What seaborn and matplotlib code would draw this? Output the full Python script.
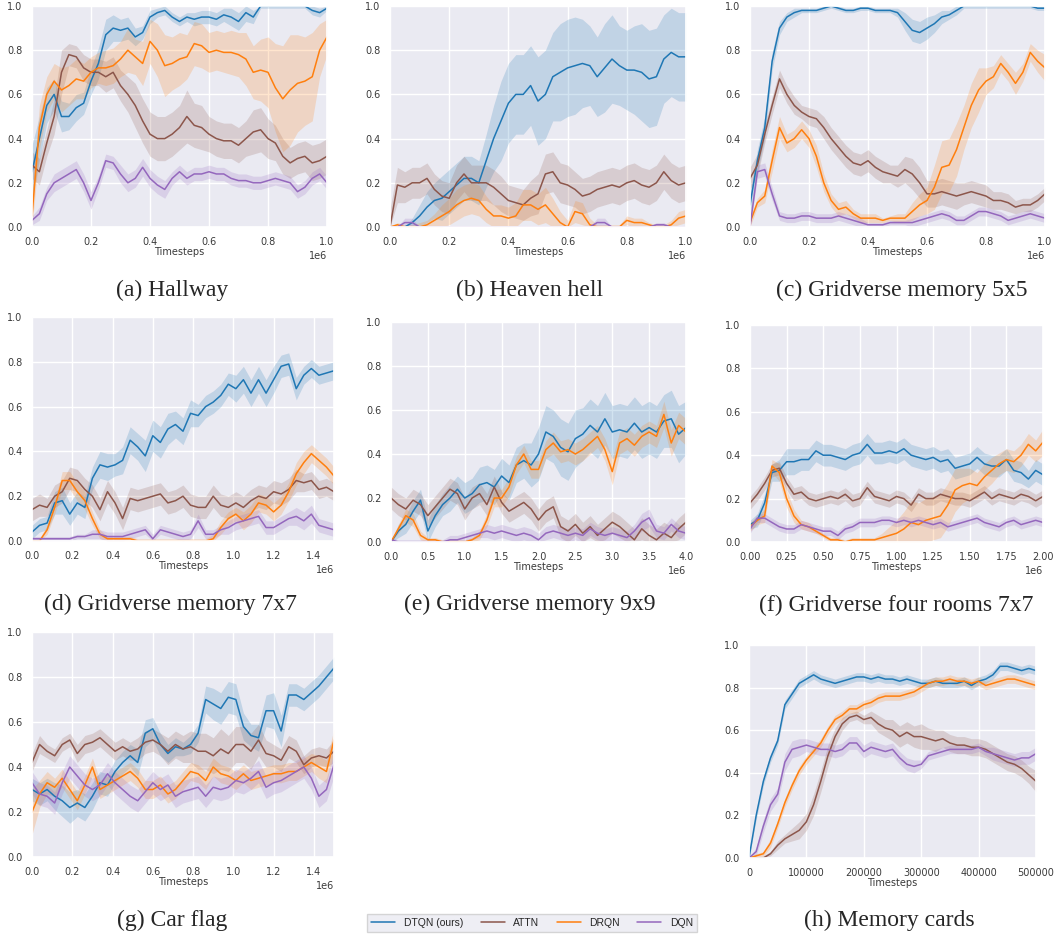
import numpy as np
import matplotlib
matplotlib.use("Agg")
import matplotlib.pyplot as plt
import seaborn as sns

# ---------------- DATA (success rate, 41 evals per run) ----------------
METHODS = ["DTQN (ours)", "ATTN", "DRQN", "DQN"]
COLORS = ["#1f77b4", "#8c564b", "#ff7f0e", "#9467bd"]

# (a) Hallway
hallway_dtqn = [0.25, 0.4, 0.55, 0.6, 0.5, 0.5, 0.54, 0.56, 0.66, 0.74, 0.87, 0.9, 0.89, 0.9, 0.86, 0.88, 0.95, 0.97, 0.98, 0.95, 0.93,
                0.95, 0.94, 0.95, 0.95, 0.94, 0.96, 0.95, 0.93, 0.97, 0.95, 1.0, 1.0, 1.0, 1.0, 1.0, 1.0, 1.0, 0.98, 0.97, 0.99]
hallway_dtqn_sd = [0.12, 0.1, 0.08, 0.07, 0.07, 0.06, 0.06, 0.05, 0.06, 0.07, 0.07, 0.06, 0.05, 0.05, 0.04, 0.03, 0.03, 0.02, 0.02, 0.02, 0.02,
                   0.02, 0.03, 0.03, 0.03, 0.03, 0.03, 0.04, 0.04, 0.04, 0.03, 0.01, 0.01, 0.01, 0.01, 0.01, 0.01, 0.01, 0.02, 0.02, 0.01]
hallway_attn = [0.28, 0.25, 0.38, 0.5, 0.7, 0.78, 0.77, 0.72, 0.7, 0.7, 0.68, 0.7, 0.64, 0.6, 0.55, 0.48, 0.42, 0.4, 0.4, 0.42, 0.45,
                0.5, 0.46, 0.45, 0.42, 0.4, 0.39, 0.39, 0.37, 0.4, 0.43, 0.44, 0.4, 0.38, 0.32, 0.29, 0.31, 0.32, 0.29, 0.3, 0.32]
hallway_attn_sd = [0.06, 0.06, 0.06, 0.08, 0.1, 0.05, 0.05, 0.06, 0.06, 0.06, 0.07, 0.07, 0.07, 0.08, 0.1, 0.1, 0.1, 0.1, 0.1, 0.1, 0.1,
                   0.12, 0.1, 0.1, 0.08, 0.08, 0.08, 0.08, 0.08, 0.08, 0.1, 0.1, 0.09, 0.08, 0.08, 0.07, 0.07, 0.07, 0.08, 0.08, 0.08]
hallway_drqn = [0.05, 0.45, 0.6, 0.66, 0.62, 0.64, 0.67, 0.66, 0.7, 0.72, 0.72, 0.73, 0.76, 0.8, 0.77, 0.74, 0.84, 0.8, 0.73, 0.74, 0.76,
                0.77, 0.83, 0.82, 0.79, 0.8, 0.79, 0.79, 0.78, 0.76, 0.7, 0.71, 0.7, 0.63, 0.58, 0.62, 0.65, 0.66, 0.68, 0.8, 0.86]
hallway_drqn_sd = [0.1, 0.1, 0.08, 0.08, 0.1, 0.09, 0.09, 0.08, 0.07, 0.07, 0.08, 0.08, 0.08, 0.1, 0.08, 0.1, 0.1, 0.12, 0.14, 0.12, 0.12,
                   0.1, 0.1, 0.1, 0.09, 0.09, 0.09, 0.1, 0.1, 0.12, 0.12, 0.14, 0.16, 0.2, 0.24, 0.25, 0.22, 0.2, 0.2, 0.12, 0.08]
hallway_dqn = [0.03, 0.06, 0.15, 0.2, 0.22, 0.24, 0.26, 0.2, 0.12, 0.2, 0.3, 0.29, 0.24, 0.2, 0.22, 0.27, 0.22, 0.19, 0.17, 0.22, 0.25,
               0.22, 0.24, 0.24, 0.25, 0.24, 0.24, 0.22, 0.21, 0.21, 0.2, 0.2, 0.21, 0.22, 0.21, 0.2, 0.16, 0.18, 0.22, 0.24, 0.2]
hallway_dqn_sd = [0.02, 0.03, 0.03, 0.04, 0.04, 0.04, 0.04, 0.04, 0.04, 0.03, 0.03, 0.03, 0.04, 0.04, 0.04, 0.04, 0.04, 0.04, 0.04, 0.03, 0.03,
                  0.03, 0.03, 0.03, 0.03, 0.03, 0.03, 0.03, 0.03, 0.03, 0.03, 0.03, 0.03, 0.03, 0.03, 0.03, 0.03, 0.03, 0.03, 0.03, 0.03]

# (b) Heaven hell
heaven_dtqn = [0.0, 0.0, 0.0, 0.02, 0.05, 0.09, 0.12, 0.13, 0.16, 0.19, 0.22, 0.22, 0.2, 0.3, 0.4, 0.48, 0.56, 0.6, 0.6, 0.64, 0.57,
               0.6, 0.68, 0.7, 0.72, 0.73, 0.74, 0.73, 0.68, 0.72, 0.76, 0.73, 0.71, 0.71, 0.7, 0.67, 0.68, 0.76, 0.79, 0.77, 0.77]
heaven_dtqn_sd = [0.0, 0.0, 0.0, 0.02, 0.05, 0.07, 0.08, 0.1, 0.1, 0.1, 0.1, 0.1, 0.1, 0.12, 0.15, 0.18, 0.18, 0.18, 0.18, 0.18, 0.2,
                  0.2, 0.2, 0.22, 0.22, 0.22, 0.2, 0.18, 0.18, 0.2, 0.2, 0.18, 0.18, 0.2, 0.22, 0.22, 0.22, 0.2, 0.2, 0.2, 0.2]
heaven_attn = [0.0, 0.19, 0.18, 0.2, 0.2, 0.22, 0.17, 0.14, 0.13, 0.2, 0.24, 0.2, 0.2, 0.2, 0.18, 0.15, 0.12, 0.11, 0.1, 0.13, 0.15,
               0.24, 0.25, 0.2, 0.19, 0.17, 0.14, 0.15, 0.17, 0.18, 0.19, 0.18, 0.2, 0.21, 0.19, 0.18, 0.2, 0.25, 0.21, 0.19, 0.2]
heaven_attn_sd = [0.08, 0.08, 0.07, 0.07, 0.07, 0.07, 0.07, 0.07, 0.07, 0.08, 0.08, 0.08, 0.08, 0.08, 0.08, 0.08, 0.07, 0.07, 0.07, 0.08, 0.09,
                  0.09, 0.09, 0.09, 0.09, 0.08, 0.08, 0.08, 0.08, 0.08, 0.08, 0.08, 0.08, 0.08, 0.08, 0.08, 0.08, 0.08, 0.08, 0.08, 0.08]
heaven_drqn = [0.0, 0.01, 0.0, 0.0, 0.0, 0.01, 0.03, 0.05, 0.07, 0.1, 0.12, 0.13, 0.12, 0.08, 0.05, 0.05, 0.04, 0.05, 0.1, 0.1, 0.08,
               0.1, 0.06, 0.02, 0.0, 0.07, 0.06, 0.01, 0.0, 0.0, 0.0, 0.0, 0.03, 0.02, 0.02, 0.01, 0.0, 0.0, 0.01, 0.04, 0.05]
heaven_drqn_sd = [0.0, 0.01, 0.01, 0.01, 0.02, 0.02, 0.03, 0.05, 0.06, 0.07, 0.07, 0.07, 0.07, 0.06, 0.05, 0.05, 0.05, 0.06, 0.07, 0.07, 0.07,
                  0.08, 0.07, 0.05, 0.03, 0.05, 0.05, 0.03, 0.01, 0.01, 0.01, 0.01, 0.02, 0.02, 0.02, 0.01, 0.01, 0.01, 0.02, 0.03, 0.03]
heaven_dqn = [0.0, 0.0, 0.02, 0.02, 0.0, 0.0, 0.0, 0.0, 0.0, 0.0, 0.0, 0.0, 0.0, 0.0, 0.0, 0.0, 0.0, 0.0, 0.0, 0.0, 0.0,
              0.0, 0.0, 0.0, 0.0, 0.0, 0.0, 0.0, 0.02, 0.02, 0.0, 0.0, 0.0, 0.0, 0.0, 0.0, 0.01, 0.01, 0.0, 0.0, 0.0]
heaven_dqn_sd = [0.0, 0.0, 0.02, 0.02, 0.0, 0.0, 0.0, 0.0, 0.0, 0.0, 0.0, 0.0, 0.0, 0.0, 0.0, 0.0, 0.0, 0.0, 0.0, 0.0, 0.0,
                 0.0, 0.0, 0.0, 0.0, 0.0, 0.0, 0.0, 0.02, 0.02, 0.0, 0.0, 0.0, 0.0, 0.0, 0.0, 0.01, 0.01, 0.0, 0.0, 0.0]

# (c) Gridverse memory 5x5
mem5_dtqn = [0.1, 0.3, 0.45, 0.75, 0.9, 0.95, 0.97, 0.98, 0.98, 0.98, 0.99, 1.0, 0.99, 0.98, 0.98, 0.99, 0.99, 0.98, 0.98, 0.98, 0.97,
             0.93, 0.89, 0.88, 0.9, 0.92, 0.95, 0.96, 0.98, 1.0, 1.0, 1.0, 1.0, 1.0, 1.0, 1.0, 1.0, 1.0, 1.0, 0.99, 0.99]
mem5_dtqn_sd = [0.05, 0.05, 0.05, 0.04, 0.03, 0.02, 0.02, 0.01, 0.01, 0.01, 0.01, 0.01, 0.01, 0.01, 0.01, 0.01, 0.01, 0.01, 0.01, 0.01, 0.02,
                0.04, 0.05, 0.05, 0.05, 0.04, 0.03, 0.02, 0.02, 0.01, 0.01, 0.01, 0.01, 0.01, 0.01, 0.01, 0.01, 0.01, 0.01, 0.01, 0.01]
mem5_attn = [0.22, 0.28, 0.42, 0.55, 0.67, 0.6, 0.55, 0.52, 0.5, 0.49, 0.45, 0.4, 0.36, 0.32, 0.29, 0.28, 0.3, 0.27, 0.25, 0.24, 0.23,
             0.26, 0.24, 0.2, 0.15, 0.15, 0.16, 0.15, 0.14, 0.15, 0.16, 0.15, 0.14, 0.12, 0.12, 0.11, 0.09, 0.1, 0.1, 0.12, 0.15]
mem5_attn_sd = [0.05, 0.05, 0.04, 0.04, 0.04, 0.04, 0.04, 0.03, 0.04, 0.04, 0.05, 0.05, 0.05, 0.05, 0.05, 0.05, 0.05, 0.05, 0.05, 0.04, 0.05,
                0.06, 0.07, 0.07, 0.06, 0.06, 0.06, 0.06, 0.06, 0.05, 0.05, 0.05, 0.05, 0.04, 0.04, 0.04, 0.03, 0.03, 0.03, 0.03, 0.03]
mem5_drqn = [0.02, 0.11, 0.14, 0.3, 0.45, 0.38, 0.4, 0.44, 0.4, 0.32, 0.2, 0.12, 0.08, 0.09, 0.06, 0.04, 0.04, 0.04, 0.03, 0.04, 0.04,
             0.04, 0.07, 0.1, 0.12, 0.18, 0.27, 0.28, 0.35, 0.45, 0.55, 0.62, 0.66, 0.68, 0.74, 0.7, 0.65, 0.7, 0.79, 0.75, 0.72]
mem5_drqn_sd = [0.02, 0.02, 0.03, 0.05, 0.05, 0.04, 0.04, 0.04, 0.04, 0.05, 0.04, 0.03, 0.03, 0.03, 0.02, 0.02, 0.02, 0.02, 0.01, 0.01, 0.02,
                0.02, 0.04, 0.05, 0.06, 0.1, 0.12, 0.12, 0.12, 0.1, 0.1, 0.1, 0.06, 0.05, 0.04, 0.04, 0.05, 0.04, 0.04, 0.05, 0.06]
mem5_dqn = [0.0, 0.25, 0.26, 0.15, 0.05, 0.04, 0.04, 0.05, 0.05, 0.04, 0.04, 0.04, 0.05, 0.04, 0.03, 0.02, 0.01, 0.01, 0.01, 0.02, 0.02,
            0.02, 0.02, 0.03, 0.04, 0.05, 0.06, 0.05, 0.03, 0.03, 0.05, 0.07, 0.07, 0.06, 0.05, 0.03, 0.04, 0.05, 0.06, 0.05, 0.04]
mem5_dqn_sd = [0.02, 0.03, 0.03, 0.03, 0.02, 0.02, 0.02, 0.02, 0.02, 0.02, 0.02, 0.02, 0.02, 0.02, 0.02, 0.02, 0.01, 0.01, 0.01, 0.01, 0.01,
               0.01, 0.02, 0.02, 0.02, 0.02, 0.02, 0.02, 0.02, 0.02, 0.02, 0.02, 0.02, 0.02, 0.02, 0.02, 0.02, 0.02, 0.02, 0.02, 0.02]

# (d) Gridverse memory 7x7
mem7_dtqn = [0.04, 0.07, 0.08, 0.17, 0.18, 0.12, 0.17, 0.15, 0.28, 0.34, 0.33, 0.34, 0.36, 0.45, 0.42, 0.38, 0.47, 0.44, 0.5, 0.52, 0.49,
             0.57, 0.56, 0.6, 0.62, 0.65, 0.7, 0.68, 0.72, 0.66, 0.72, 0.66, 0.72, 0.78, 0.79, 0.68, 0.74, 0.77, 0.74, 0.75, 0.76]
mem7_dtqn_sd = [0.03, 0.03, 0.03, 0.05, 0.06, 0.05, 0.05, 0.05, 0.05, 0.06, 0.06, 0.05, 0.06, 0.06, 0.06, 0.07, 0.07, 0.07, 0.07, 0.06, 0.06,
                0.06, 0.05, 0.05, 0.05, 0.05, 0.05, 0.06, 0.06, 0.06, 0.06, 0.06, 0.06, 0.05, 0.05, 0.05, 0.04, 0.04, 0.04, 0.04, 0.04]
mem7_attn = [0.14, 0.16, 0.15, 0.2, 0.22, 0.28, 0.27, 0.23, 0.2, 0.14, 0.22, 0.17, 0.1, 0.19, 0.18, 0.19, 0.2, 0.21, 0.17, 0.18, 0.2,
             0.16, 0.15, 0.15, 0.2, 0.16, 0.15, 0.17, 0.15, 0.18, 0.2, 0.19, 0.22, 0.21, 0.23, 0.27, 0.26, 0.27, 0.23, 0.24, 0.22]
mem7_attn_sd = [0.05, 0.05, 0.04, 0.05, 0.05, 0.05, 0.05, 0.05, 0.05, 0.05, 0.05, 0.05, 0.05, 0.05, 0.05, 0.05, 0.05, 0.05, 0.05, 0.05, 0.05,
                0.05, 0.05, 0.05, 0.05, 0.05, 0.05, 0.05, 0.05, 0.05, 0.05, 0.05, 0.05, 0.05, 0.05, 0.05, 0.04, 0.04, 0.04, 0.04, 0.04]
mem7_drqn = [0.0, 0.0, 0.05, 0.15, 0.27, 0.27, 0.22, 0.18, 0.1, 0.03, 0.01, 0.01, 0.01, 0.01, 0.0, 0.0, 0.0, 0.0, 0.0, 0.0, 0.0,
             0.0, 0.0, 0.0, 0.01, 0.06, 0.1, 0.12, 0.09, 0.12, 0.17, 0.16, 0.13, 0.16, 0.22, 0.3, 0.35, 0.39, 0.36, 0.33, 0.29]
mem7_drqn_sd = [0.0, 0.01, 0.02, 0.03, 0.04, 0.04, 0.04, 0.04, 0.03, 0.02, 0.01, 0.01, 0.01, 0.01, 0.01, 0.01, 0.01, 0.01, 0.01, 0.01, 0.01,
                0.01, 0.01, 0.01, 0.02, 0.03, 0.03, 0.03, 0.04, 0.04, 0.04, 0.04, 0.04, 0.04, 0.04, 0.05, 0.05, 0.04, 0.04, 0.04, 0.04]
mem7_dqn = [0.01, 0.01, 0.01, 0.01, 0.01, 0.01, 0.02, 0.02, 0.03, 0.03, 0.02, 0.02, 0.02, 0.03, 0.04, 0.05, 0.01, 0.05, 0.04, 0.03, 0.02,
            0.03, 0.09, 0.03, 0.03, 0.05, 0.06, 0.08, 0.09, 0.1, 0.11, 0.06, 0.06, 0.08, 0.1, 0.11, 0.09, 0.12, 0.07, 0.06, 0.05]
mem7_dqn_sd = [0.01, 0.01, 0.01, 0.01, 0.01, 0.01, 0.01, 0.01, 0.02, 0.02, 0.02, 0.02, 0.02, 0.02, 0.02, 0.02, 0.02, 0.02, 0.02, 0.02, 0.02,
               0.02, 0.03, 0.02, 0.02, 0.02, 0.03, 0.03, 0.03, 0.03, 0.03, 0.03, 0.03, 0.03, 0.03, 0.04, 0.04, 0.04, 0.03, 0.03, 0.03]

# (e) Gridverse memory 9x9
mem9_dtqn = [0.0, 0.05, 0.08, 0.14, 0.19, 0.05, 0.12, 0.17, 0.2, 0.24, 0.2, 0.22, 0.26, 0.27, 0.25, 0.3, 0.27, 0.35, 0.37, 0.35, 0.4,
             0.5, 0.48, 0.43, 0.41, 0.47, 0.49, 0.53, 0.5, 0.56, 0.5, 0.51, 0.5, 0.54, 0.5, 0.52, 0.5, 0.55, 0.56, 0.49, 0.52]
mem9_dtqn_sd = [0.0, 0.03, 0.04, 0.05, 0.05, 0.05, 0.05, 0.05, 0.06, 0.06, 0.07, 0.07, 0.08, 0.08, 0.08, 0.08, 0.08, 0.08, 0.08, 0.1, 0.12,
                0.12, 0.12, 0.13, 0.13, 0.13, 0.12, 0.12, 0.12, 0.12, 0.12, 0.12, 0.12, 0.12, 0.12, 0.12, 0.12, 0.12, 0.13, 0.13, 0.12]
mem9_attn = [0.2, 0.17, 0.15, 0.19, 0.17, 0.12, 0.16, 0.2, 0.24, 0.22, 0.15, 0.2, 0.22, 0.17, 0.25, 0.18, 0.14, 0.16, 0.18, 0.15, 0.1,
             0.14, 0.16, 0.07, 0.05, 0.08, 0.04, 0.07, 0.03, 0.06, 0.09, 0.07, 0.04, 0.01, 0.06, 0.03, 0.01, 0.04, 0.02, 0.06, 0.09]
mem9_attn_sd = [0.05, 0.05, 0.05, 0.05, 0.05, 0.05, 0.05, 0.05, 0.05, 0.05, 0.05, 0.05, 0.05, 0.05, 0.05, 0.05, 0.05, 0.05, 0.05, 0.05, 0.05,
                0.05, 0.05, 0.05, 0.05, 0.05, 0.05, 0.05, 0.05, 0.05, 0.05, 0.05, 0.05, 0.05, 0.05, 0.05, 0.05, 0.05, 0.05, 0.05, 0.05]
mem9_drqn = [0.0, 0.06, 0.12, 0.1, 0.03, 0.01, 0.01, 0.0, 0.0, 0.0, 0.0, 0.01, 0.03, 0.1, 0.2, 0.2, 0.25, 0.35, 0.4, 0.33, 0.33,
             0.42, 0.45, 0.41, 0.42, 0.4, 0.42, 0.45, 0.48, 0.42, 0.32, 0.45, 0.47, 0.44, 0.48, 0.5, 0.48, 0.58, 0.45, 0.53, 0.5]
mem9_drqn_sd = [0.01, 0.02, 0.03, 0.03, 0.02, 0.01, 0.01, 0.01, 0.01, 0.01, 0.01, 0.01, 0.02, 0.03, 0.04, 0.04, 0.04, 0.04, 0.04, 0.04, 0.04,
                0.04, 0.05, 0.05, 0.05, 0.05, 0.05, 0.05, 0.05, 0.05, 0.06, 0.05, 0.05, 0.05, 0.05, 0.05, 0.05, 0.06, 0.06, 0.06, 0.06]
mem9_dqn = [0.01, 0.0, 0.0, 0.0, 0.0, 0.0, 0.0, 0.0, 0.01, 0.01, 0.02, 0.03, 0.04, 0.05, 0.04, 0.05, 0.04, 0.03, 0.04, 0.03, 0.01,
            0.04, 0.05, 0.04, 0.03, 0.04, 0.03, 0.06, 0.04, 0.03, 0.04, 0.03, 0.02, 0.05, 0.09, 0.11, 0.05, 0.04, 0.08, 0.05, 0.04]
mem9_dqn_sd = [0.01, 0.01, 0.01, 0.01, 0.01, 0.01, 0.01, 0.01, 0.02, 0.02, 0.02, 0.02, 0.02, 0.03, 0.03, 0.03, 0.03, 0.03, 0.03, 0.03, 0.03,
               0.03, 0.03, 0.03, 0.03, 0.03, 0.03, 0.03, 0.03, 0.03, 0.03, 0.03, 0.03, 0.03, 0.04, 0.04, 0.03, 0.03, 0.03, 0.03, 0.03]

# (f) Gridverse four rooms 7x7
rooms_dtqn = [0.08, 0.1, 0.18, 0.32, 0.33, 0.37, 0.37, 0.38, 0.38, 0.42, 0.4, 0.4, 0.39, 0.38, 0.4, 0.41, 0.45, 0.41, 0.41, 0.42, 0.41,
              0.43, 0.4, 0.39, 0.38, 0.39, 0.37, 0.38, 0.34, 0.35, 0.36, 0.39, 0.36, 0.35, 0.35, 0.38, 0.33, 0.32, 0.29, 0.33, 0.31]
rooms_dtqn_sd = [0.02, 0.03, 0.04, 0.04, 0.05, 0.06, 0.06, 0.05, 0.05, 0.05, 0.05, 0.05, 0.05, 0.05, 0.05, 0.05, 0.05, 0.05, 0.05, 0.05, 0.05,
                 0.05, 0.05, 0.05, 0.05, 0.05, 0.05, 0.05, 0.05, 0.05, 0.05, 0.05, 0.05, 0.05, 0.05, 0.05, 0.05, 0.05, 0.04, 0.05, 0.05]
rooms_attn = [0.18, 0.22, 0.27, 0.33, 0.34, 0.27, 0.22, 0.23, 0.2, 0.19, 0.2, 0.21, 0.2, 0.22, 0.19, 0.2, 0.25, 0.21, 0.2, 0.19, 0.21,
              0.2, 0.17, 0.22, 0.2, 0.2, 0.22, 0.21, 0.2, 0.2, 0.19, 0.21, 0.23, 0.2, 0.22, 0.21, 0.2, 0.22, 0.21, 0.19, 0.21]
rooms_attn_sd = [0.03, 0.03, 0.03, 0.03, 0.03, 0.03, 0.03, 0.03, 0.03, 0.03, 0.03, 0.03, 0.03, 0.03, 0.03, 0.03, 0.03, 0.03, 0.03, 0.03, 0.03,
                 0.03, 0.03, 0.03, 0.03, 0.03, 0.03, 0.03, 0.03, 0.03, 0.03, 0.03, 0.03, 0.03, 0.03, 0.03, 0.03, 0.03, 0.03, 0.03, 0.03]
rooms_drqn = [0.07, 0.1, 0.12, 0.35, 0.32, 0.2, 0.12, 0.08, 0.07, 0.05, 0.03, 0.01, 0.01, 0.0, 0.01, 0.01, 0.01, 0.01, 0.02, 0.03, 0.04,
              0.06, 0.09, 0.08, 0.1, 0.11, 0.12, 0.17, 0.24, 0.26, 0.27, 0.26, 0.3, 0.33, 0.36, 0.38, 0.37, 0.4, 0.45, 0.42, 0.46]
rooms_drqn_sd = [0.02, 0.02, 0.03, 0.03, 0.04, 0.04, 0.03, 0.02, 0.02, 0.01, 0.01, 0.01, 0.01, 0.01, 0.01, 0.01, 0.01, 0.01, 0.02, 0.04, 0.06,
                 0.08, 0.1, 0.1, 0.1, 0.1, 0.1, 0.1, 0.1, 0.08, 0.07, 0.06, 0.06, 0.06, 0.05, 0.05, 0.05, 0.05, 0.05, 0.05, 0.06]
rooms_dqn = [0.06, 0.11, 0.11, 0.09, 0.07, 0.06, 0.06, 0.08, 0.07, 0.06, 0.05, 0.05, 0.03, 0.06, 0.07, 0.09, 0.09, 0.09, 0.1, 0.1, 0.09,
             0.1, 0.09, 0.1, 0.09, 0.08, 0.09, 0.07, 0.08, 0.09, 0.1, 0.11, 0.09, 0.08, 0.07, 0.09, 0.1, 0.08, 0.09, 0.1, 0.09]
rooms_dqn_sd = [0.02, 0.02, 0.02, 0.02, 0.02, 0.02, 0.02, 0.02, 0.02, 0.02, 0.02, 0.02, 0.02, 0.02, 0.02, 0.02, 0.02, 0.02, 0.02, 0.02, 0.02,
                0.02, 0.02, 0.02, 0.02, 0.02, 0.02, 0.02, 0.02, 0.02, 0.02, 0.02, 0.02, 0.02, 0.02, 0.02, 0.02, 0.02, 0.02, 0.02, 0.02]

# (g) Car flag
car_dtqn = [0.3, 0.28, 0.3, 0.27, 0.25, 0.22, 0.24, 0.22, 0.27, 0.33, 0.32, 0.38, 0.42, 0.45, 0.42, 0.55, 0.57, 0.5, 0.46, 0.49, 0.48,
            0.5, 0.55, 0.7, 0.68, 0.66, 0.71, 0.7, 0.58, 0.54, 0.53, 0.65, 0.65, 0.56, 0.72, 0.72, 0.7, 0.73, 0.76, 0.8, 0.84]
car_dtqn_sd = [0.05, 0.05, 0.05, 0.06, 0.07, 0.07, 0.06, 0.06, 0.06, 0.05, 0.05, 0.05, 0.05, 0.05, 0.06, 0.06, 0.05, 0.05, 0.04, 0.04, 0.03,
               0.04, 0.04, 0.06, 0.07, 0.07, 0.07, 0.07, 0.06, 0.05, 0.06, 0.07, 0.08, 0.07, 0.05, 0.05, 0.05, 0.05, 0.05, 0.05, 0.05]
car_attn = [0.42, 0.5, 0.47, 0.45, 0.5, 0.52, 0.46, 0.5, 0.51, 0.53, 0.5, 0.47, 0.49, 0.47, 0.48, 0.51, 0.52, 0.5, 0.47, 0.5, 0.48,
            0.49, 0.47, 0.47, 0.45, 0.48, 0.46, 0.5, 0.5, 0.47, 0.52, 0.46, 0.45, 0.43, 0.49, 0.47, 0.41, 0.44, 0.45, 0.44, 0.47]
car_attn_sd = [0.04, 0.04, 0.03, 0.03, 0.03, 0.03, 0.04, 0.04, 0.04, 0.04, 0.04, 0.04, 0.04, 0.04, 0.05, 0.05, 0.05, 0.05, 0.06, 0.06, 0.06,
               0.07, 0.08, 0.08, 0.08, 0.09, 0.08, 0.08, 0.08, 0.08, 0.07, 0.06, 0.05, 0.05, 0.05, 0.05, 0.04, 0.04, 0.04, 0.04, 0.05]
car_drqn = [0.2, 0.28, 0.33, 0.31, 0.35, 0.3, 0.25, 0.32, 0.4, 0.3, 0.32, 0.34, 0.36, 0.38, 0.35, 0.3, 0.3, 0.32, 0.28, 0.3, 0.34,
            0.38, 0.37, 0.34, 0.4, 0.37, 0.36, 0.34, 0.37, 0.34, 0.35, 0.36, 0.37, 0.37, 0.38, 0.38, 0.4, 0.42, 0.4, 0.38, 0.52]
car_drqn_sd = [0.1, 0.06, 0.05, 0.04, 0.04, 0.04, 0.04, 0.04, 0.04, 0.04, 0.04, 0.04, 0.04, 0.04, 0.04, 0.04, 0.04, 0.04, 0.04, 0.04, 0.04,
               0.04, 0.04, 0.04, 0.04, 0.04, 0.04, 0.04, 0.04, 0.04, 0.04, 0.04, 0.04, 0.04, 0.04, 0.04, 0.04, 0.04, 0.05, 0.05, 0.05]
car_dqn = [0.33, 0.28, 0.27, 0.24, 0.33, 0.4, 0.36, 0.32, 0.3, 0.32, 0.37, 0.33, 0.3, 0.27, 0.25, 0.29, 0.33, 0.3, 0.32, 0.27, 0.29,
           0.3, 0.31, 0.27, 0.31, 0.3, 0.31, 0.34, 0.33, 0.35, 0.38, 0.31, 0.33, 0.34, 0.36, 0.38, 0.4, 0.35, 0.27, 0.3, 0.41]
car_dqn_sd = [0.05, 0.05, 0.05, 0.05, 0.05, 0.05, 0.05, 0.05, 0.05, 0.05, 0.05, 0.05, 0.05, 0.05, 0.05, 0.05, 0.05, 0.05, 0.05, 0.05, 0.05,
              0.05, 0.05, 0.05, 0.05, 0.05, 0.05, 0.05, 0.05, 0.05, 0.05, 0.05, 0.05, 0.05, 0.05, 0.05, 0.05, 0.05, 0.05, 0.05, 0.05]

# (h) Memory cards
cards_dtqn = [0.0, 0.2, 0.36, 0.47, 0.55, 0.72, 0.77, 0.82, 0.84, 0.86, 0.84, 0.83, 0.82, 0.83, 0.84, 0.85, 0.85, 0.84, 0.85, 0.84, 0.84,
              0.83, 0.84, 0.83, 0.82, 0.82, 0.83, 0.82, 0.82, 0.82, 0.83, 0.81, 0.83, 0.84, 0.86, 0.9, 0.9, 0.89, 0.88, 0.89, 0.88]
cards_dtqn_sd = [0.0, 0.02, 0.02, 0.02, 0.02, 0.02, 0.02, 0.02, 0.02, 0.02, 0.02, 0.02, 0.02, 0.02, 0.02, 0.02, 0.02, 0.02, 0.02, 0.02, 0.02,
                 0.02, 0.02, 0.02, 0.02, 0.02, 0.02, 0.02, 0.02, 0.02, 0.02, 0.02, 0.02, 0.02, 0.02, 0.02, 0.02, 0.02, 0.02, 0.02, 0.02]
cards_attn = [0.0, 0.0, 0.0, 0.02, 0.06, 0.09, 0.11, 0.13, 0.17, 0.25, 0.36, 0.48, 0.57, 0.63, 0.66, 0.67, 0.65, 0.66, 0.63, 0.61, 0.6,
              0.57, 0.59, 0.57, 0.57, 0.56, 0.55, 0.56, 0.54, 0.53, 0.53, 0.52, 0.52, 0.51, 0.49, 0.47, 0.45, 0.44, 0.42, 0.39, 0.36]
cards_attn_sd = [0.0, 0.0, 0.01, 0.01, 0.02, 0.02, 0.03, 0.04, 0.04, 0.05, 0.05, 0.05, 0.04, 0.03, 0.02, 0.02, 0.02, 0.03, 0.04, 0.04, 0.05,
                 0.05, 0.05, 0.05, 0.06, 0.05, 0.05, 0.04, 0.04, 0.04, 0.04, 0.04, 0.04, 0.04, 0.04, 0.04, 0.04, 0.04, 0.04, 0.04, 0.05]
cards_drqn = [0.0, 0.01, 0.02, 0.07, 0.16, 0.26, 0.34, 0.41, 0.46, 0.5, 0.54, 0.6, 0.65, 0.67, 0.7, 0.7, 0.72, 0.73, 0.75, 0.76, 0.76,
              0.76, 0.77, 0.78, 0.8, 0.82, 0.83, 0.83, 0.84, 0.83, 0.83, 0.82, 0.83, 0.81, 0.82, 0.83, 0.84, 0.84, 0.83, 0.82, 0.81]
cards_drqn_sd = [0.0, 0.01, 0.01, 0.02, 0.02, 0.02, 0.02, 0.02, 0.02, 0.02, 0.02, 0.02, 0.02, 0.02, 0.02, 0.02, 0.02, 0.02, 0.02, 0.02, 0.02,
                 0.02, 0.02, 0.02, 0.02, 0.02, 0.02, 0.02, 0.02, 0.02, 0.02, 0.02, 0.02, 0.02, 0.02, 0.02, 0.02, 0.02, 0.02, 0.02, 0.02]
cards_dqn = [0.0, 0.03, 0.15, 0.25, 0.3, 0.45, 0.51, 0.52, 0.53, 0.52, 0.51, 0.51, 0.5, 0.51, 0.54, 0.54, 0.5, 0.52, 0.51, 0.5, 0.51,
             0.47, 0.44, 0.43, 0.44, 0.48, 0.49, 0.5, 0.51, 0.51, 0.51, 0.51, 0.52, 0.5, 0.49, 0.48, 0.47, 0.46, 0.47, 0.47, 0.49]
cards_dqn_sd = [0.0, 0.02, 0.03, 0.03, 0.03, 0.04, 0.04, 0.04, 0.03, 0.03, 0.03, 0.03, 0.03, 0.03, 0.03, 0.03, 0.03, 0.03, 0.03, 0.03, 0.03,
                0.03, 0.03, 0.03, 0.02, 0.02, 0.02, 0.02, 0.02, 0.02, 0.02, 0.02, 0.02, 0.02, 0.03, 0.03, 0.03, 0.03, 0.03, 0.03, 0.03]

# ---------------- PANELS ----------------
# (caption, max timesteps, x ticks, axes box in px [left, top, right, bottom], caption centre px, series)
PANELS = [
    ("(a) Hallway", 1e6, np.arange(0, 1.01e6, 2e5), (32, 6, 327, 227), (172, 290),
     [(hallway_dtqn, hallway_dtqn_sd), (hallway_attn, hallway_attn_sd), (hallway_drqn, hallway_drqn_sd), (hallway_dqn, hallway_dqn_sd)]),
    ("(b) Heaven hell", 1e6, np.arange(0, 1.01e6, 2e5), (390, 6, 686, 227), (530, 290),
     [(heaven_dtqn, heaven_dtqn_sd), (heaven_attn, heaven_attn_sd), (heaven_drqn, heaven_drqn_sd), (heaven_dqn, heaven_dqn_sd)]),
    ("(c) Gridverse memory 5x5", 1e6, np.arange(0, 1.01e6, 2e5), (750, 6, 1045, 227), (902, 290),
     [(mem5_dtqn, mem5_dtqn_sd), (mem5_attn, mem5_attn_sd), (mem5_drqn, mem5_drqn_sd), (mem5_dqn, mem5_dqn_sd)]),
    ("(d) Gridverse memory 7x7", 1.5e6, np.arange(0, 1.41e6, 2e5), (32, 317, 334, 541), (170, 604),
     [(mem7_dtqn, mem7_dtqn_sd), (mem7_attn, mem7_attn_sd), (mem7_drqn, mem7_drqn_sd), (mem7_dqn, mem7_dqn_sd)]),
    ("(e) Gridverse memory 9x9", 4e6, np.arange(0, 4.01e6, 5e5), (391, 322, 686, 542), (530, 604),
     [(mem9_dtqn, mem9_dtqn_sd), (mem9_attn, mem9_attn_sd), (mem9_drqn, mem9_drqn_sd), (mem9_dqn, mem9_dqn_sd)]),
    ("(f) Gridverse four rooms 7x7", 2e6, np.arange(0, 2.01e6, 2.5e5), (750, 325, 1043, 542), (896, 605),
     [(rooms_dtqn, rooms_dtqn_sd), (rooms_attn, rooms_attn_sd), (rooms_drqn, rooms_drqn_sd), (rooms_dqn, rooms_dqn_sd)]),
    ("(g) Car flag", 1.5e6, np.arange(0, 1.41e6, 2e5), (32, 632, 334, 857), (172, 920),
     [(car_dtqn, car_dtqn_sd), (car_attn, car_attn_sd), (car_drqn, car_drqn_sd), (car_dqn, car_dqn_sd)]),
    ("(h) Memory cards", 5e5, np.arange(0, 5.01e5, 1e5), (749, 645, 1036, 858), (889, 920),
     [(cards_dtqn, cards_dtqn_sd), (cards_attn, cards_attn_sd), (cards_drqn, cards_drqn_sd), (cards_dqn, cards_dqn_sd)]),
]

W, H = 1056, 936

sns.set_theme(style="darkgrid")
plt.rcParams["font.family"] = ["DejaVu Sans"]

fig = plt.figure(figsize=(W / 100, H / 100), dpi=100)

handles = []
for caption, max_steps, xticks, box, cap_xy, series in PANELS:
    left, top, right, bottom = box
    ax = fig.add_axes([left / W, 1 - bottom / H, (right - left) / W, (bottom - top) / H])
    steps = np.linspace(0, max_steps, len(series[0][0]))
    for (mean, sd), name, color in zip(series, METHODS, COLORS):
        mean = np.array(mean)
        sd = np.array(sd)
        ax.fill_between(steps, np.clip(mean - sd, 0, 1), np.clip(mean + sd, 0, 1),
                        color=color, alpha=0.2, linewidth=0)
        sns.lineplot(x=steps, y=mean, ax=ax, color=color, linewidth=1.1, label=name, legend=False)
    ax.set_xlim(0, max_steps)
    ax.set_ylim(0, 1.0)
    ax.set_xticks(xticks)
    ax.set_yticks(np.arange(0, 1.01, 0.2))
    ax.tick_params(labelsize=7, pad=1, colors="#3a3a3a")
    ax.xaxis.get_offset_text().set_fontsize(7)
    ax.set_xlabel("Timesteps", fontsize=7, labelpad=0, color="#3a3a3a")
    ax.set_ylabel("")
    if not handles:
        handles = ax.get_lines()
    fig.text(cap_xy[0] / W, 1 - cap_xy[1] / H, caption, ha="center", va="center",
             fontsize=17, family="Liberation Serif")

fig.legend(handles, METHODS, loc="center", bbox_to_anchor=(532 / W, 1 - 923 / H), ncol=4,
           handlelength=2.3, columnspacing=1.7, frameon=True, fancybox=False,
           prop={"family": "Liberation Sans", "size": 7.5})

fig.savefig("out.png", dpi=100)
